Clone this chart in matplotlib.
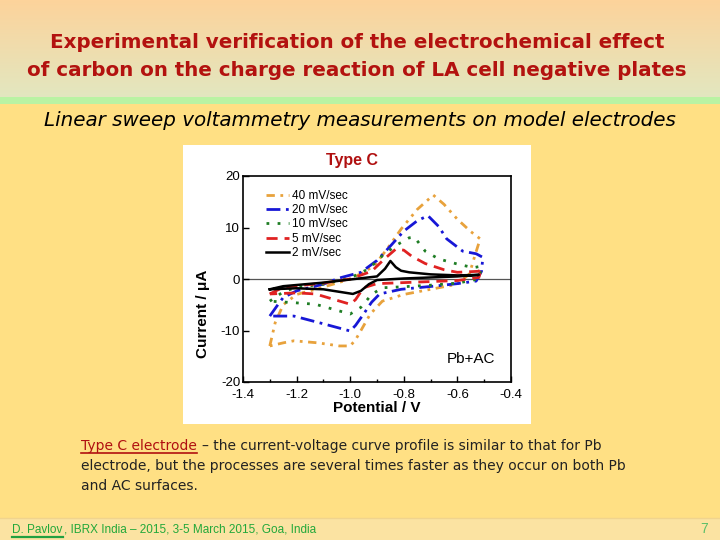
import numpy as np
import matplotlib
matplotlib.use("Agg")
import matplotlib.pyplot as plt
from matplotlib.patches import Rectangle

plt.rcParams["axes.unicode_minus"] = False

# ---------------- data ----------------
rates = ["40 mV/sec", "20 mV/sec", "10 mV/sec", "5 mV/sec", "2 mV/sec"]

v40_fwd = [-1.30, -1.28, -1.25, -1.20, -1.15, -1.05, -1.00, -0.95, -0.91, -0.86, -0.81, -0.75, -0.69, -0.65, -0.60, -0.55, -0.515]
i40_fwd = [-13.0, -8.5, -5.0, -3.0, -2.3, -0.8, 0.0, 1.3, 2.6, 6.0, 9.7, 13.5, 16.3, 14.5, 11.6, 9.2, 7.8]
v40_rev = [-0.515, -0.535, -0.555, -0.60, -0.70, -0.80, -0.88, -0.925, -0.96, -0.98, -1.00, -1.04, -1.12, -1.21, -1.25, -1.30]
i40_rev = [7.8, 4.5, 1.0, -1.0, -2.0, -3.0, -4.3, -6.8, -10.0, -11.8, -13.0, -13.0, -12.4, -12.0, -12.4, -13.0]

v20_fwd = [-1.30, -1.27, -1.25, -1.20, -1.10, -1.04, -0.96, -0.90, -0.85, -0.80, -0.75, -0.71, -0.67, -0.64, -0.58, -0.53, -0.505]
i20_fwd = [-7.2, -5.0, -3.6, -2.3, -1.0, 0.2, 1.3, 3.6, 6.4, 9.3, 11.3, 12.3, 10.2, 7.8, 5.4, 4.9, 4.2]
v20_rev = [-0.505, -0.51, -0.53, -0.60, -0.69, -0.81, -0.89, -0.92, -0.95, -0.98, -1.00, -1.10, -1.21, -1.30]
i20_rev = [4.2, 1.5, -0.4, -0.9, -1.4, -2.0, -2.9, -4.5, -6.8, -9.0, -10.1, -8.7, -7.2, -7.2]

v10_fwd = [-1.30, -1.25, -1.20, -1.10, -1.00, -0.93, -0.88, -0.83, -0.78, -0.76, -0.72, -0.67, -0.60, -0.54, -0.51]
i10_fwd = [-4.3, -2.5, -1.6, -1.0, 0.2, 2.0, 4.5, 6.5, 8.0, 8.1, 5.4, 3.9, 2.9, 2.2, 2.5]
v10_rev = [-0.51, -0.52, -0.60, -0.70, -0.80, -0.88, -0.92, -0.96, -1.00, -1.13, -1.21, -1.30]
i10_rev = [2.5, 0.0, -0.8, -1.2, -1.5, -1.7, -3.0, -5.5, -6.8, -4.9, -4.6, -4.3]

v5_fwd = [-1.30, -1.25, -1.10, -1.00, -0.92, -0.87, -0.83, -0.80, -0.77, -0.72, -0.65, -0.60, -0.52, -0.51]
i5_fwd = [-2.9, -1.6, -0.8, 0.0, 1.5, 4.0, 5.8, 5.6, 4.4, 3.0, 1.8, 1.3, 1.5, 2.0]
v5_rev = [-0.51, -0.52, -0.60, -0.70, -0.80, -0.90, -0.95, -0.98, -1.00, -1.13, -1.20, -1.30]
i5_rev = [2.0, 0.3, -0.3, -0.5, -0.7, -0.9, -1.7, -4.0, -4.9, -2.9, -2.7, -2.9]

v2_fwd = [-1.30, -1.25, -1.10, -1.00, -0.90, -0.87, -0.85, -0.83, -0.81, -0.78, -0.70, -0.60, -0.52]
i2_fwd = [-2.0, -1.4, -0.7, -0.1, 0.5, 2.0, 3.5, 2.3, 1.6, 1.3, 0.9, 0.7, 0.8]
v2_rev = [-0.52, -0.60, -0.70, -0.80, -0.90, -0.93, -0.96, -0.99, -1.10, -1.20, -1.30]
i2_rev = [0.8, 0.5, 0.3, 0.1, -0.2, -1.0, -2.3, -2.9, -2.0, -1.8, -2.0]

x_ticks = [-1.4, -1.2, -1.0, -0.8, -0.6, -0.4]
y_ticks = [-20, -10, 0, 10, 20]

# ---------------- figure & slide background ----------------
W, H = 720, 540
fig = plt.figure(figsize=(7.2, 5.4), dpi=100)
bg = fig.add_axes([0, 0, 1, 1])
bg.set_xlim(0, W)
bg.set_ylim(H, 0)
bg.axis("off")

top = np.array([253, 211, 155]) / 255
mid = np.array([226, 231, 192]) / 255
grad = np.linspace(0, 1, 98)[:, None, None]
img = top * (1 - grad) + mid * grad
img = np.repeat(img, 2, axis=1)
bg.imshow(img, extent=(0, W, 98, 0), aspect="auto", zorder=0)
bg.add_patch(Rectangle((0, 97), W, 7, color="#b9f3a3", zorder=1, lw=0))
bg.add_patch(Rectangle((0, 104), W, 414, color="#ffe084", zorder=1, lw=0))
bg.add_patch(Rectangle((0, 518), W, 22, color="#fbe3a2", zorder=1, lw=0))
bg.plot([0, W], [518, 518], color="#f0d48e", lw=1, zorder=2)
bg.add_patch(Rectangle((183, 145), 348, 279, color="white", zorder=2, lw=0))

# titles
title_col = "#b3120f"
bg.text(357, 42, "Experimental verification of the electrochemical effect",
        ha="center", va="center", fontsize=14.3, fontweight="bold", color=title_col, zorder=3)
bg.text(357, 71, "of carbon on the charge reaction of LA cell negative plates",
        ha="center", va="center", fontsize=14.3, fontweight="bold", color=title_col, zorder=3)
bg.text(360, 121, "Linear sweep voltammetry measurements on model electrodes",
        ha="center", va="center", fontsize=14.3, style="italic", color="black", zorder=3)

bg.text(352, 160, "Type C", ha="center", va="center", fontsize=11.5, fontweight="bold",
        color="#b01010", family="Liberation Sans", zorder=3)

# body text
body_fs = 10
tc = bg.text(81, 446, "Type C electrode", ha="left", va="center", fontsize=body_fs,
             color="#b01010", zorder=3)
renderer = fig.canvas.get_renderer()
bb = tc.get_window_extent(renderer)
x_end = bb.x1  # pixels, same as data units of bg (x axis 0..W)
bg.plot([81, x_end], [453, 453], color="#b01010", lw=1.2, zorder=3)
bg.text(x_end + 5, 446, "– the current-voltage curve profile is similar to that for Pb",
        ha="left", va="center", fontsize=body_fs, color="#222222", zorder=3)
bg.text(81, 466, "electrode, but the processes are several times faster as they occur on both Pb",
        ha="left", va="center", fontsize=body_fs, color="#222222", zorder=3)
bg.text(81, 486, "and AC surfaces.", ha="left", va="center", fontsize=body_fs,
        color="#222222", zorder=3)

# footer
foot_col = "#22a83a"
bg.text(12, 530, "D. Pavlov", ha="left", va="center", fontsize=8.5, color=foot_col,
        family="Liberation Sans", zorder=3)
bg.plot([12, 63], [537, 537], color="#22a040", lw=1.6, zorder=3)
bg.text(64, 530, ", IBRX India – 2015, 3-5 March 2015, Goa, India", ha="left", va="center",
        fontsize=8.5, color=foot_col, family="Liberation Sans", zorder=3)
bg.text(704, 529, "7", ha="center", va="center", fontsize=10, color="#5cbf6a",
        family="Liberation Sans", zorder=3)

# ---------------- chart ----------------
ax = fig.add_axes([243 / W, 1 - 382 / H, (511 - 243) / W, (382 - 176) / H])
ax.set_facecolor("white")
ax.set_xlim(-1.4, -0.4)
ax.set_ylim(-20, 20)
ax.axhline(0, color="#555555", lw=0.9, zorder=1)

styles = [
    ("#e8a23c", (0, (3, 2, 1, 2, 1, 2)), 2.0),
    ("#1717d6", (0, (5, 2, 1, 2)), 2.0),
    ("#1e7d24", (0, (1, 3)), 2.0),
    ("#e02222", (0, (4, 2.5)), 2.0),
    ("black", "-", 1.8),
]
series = [
    (v40_fwd + v40_rev[1:], i40_fwd + i40_rev[1:]),
    (v20_fwd + v20_rev[1:], i20_fwd + i20_rev[1:]),
    (v10_fwd + v10_rev[1:], i10_fwd + i10_rev[1:]),
    (v5_fwd + v5_rev[1:], i5_fwd + i5_rev[1:]),
    (v2_fwd + v2_rev[1:], i2_fwd + i2_rev[1:]),
]
for (v, i), (col, ls, lw), lab in zip(series, styles, rates):
    ax.plot(v, i, color=col, linestyle=ls, lw=lw, label=lab, zorder=2)

ax.set_xticks(x_ticks)
ax.set_xticklabels(["-1.4", "-1.2", "-1.0", "-0.8", "-0.6", "-0.4"])
ax.set_yticks(y_ticks)
ax.set_xticks(np.arange(-1.3, -0.4, 0.2), minor=True)
ax.tick_params(direction="in", length=4, width=1, labelsize=9.5)
ax.tick_params(axis="x", pad=5)
ax.tick_params(axis="y", pad=2)
ax.tick_params(which="minor", direction="in", length=2.5, width=1)
for lab in ax.get_xticklabels() + ax.get_yticklabels():
    lab.set_family("Liberation Sans")
for sp in ax.spines.values():
    sp.set_linewidth(1.2)
ax.set_xlabel("Potential / V", fontsize=11, fontweight="bold", family="Liberation Sans", labelpad=0)
ax.set_ylabel("Current / μA", fontsize=11, fontweight="bold", family="Liberation Sans", labelpad=4)
ax.yaxis.set_label_coords(-0.125, 0.33)

ax.text(-0.55, -15.5, "Pb+AC", ha="center", va="center", fontsize=11, family="Liberation Sans")

ax.legend(loc="upper left", bbox_to_anchor=(0.045, 0.985), frameon=False,
          handlelength=2.0, handletextpad=0.25, labelspacing=0.2,
          prop={"family": "Liberation Sans", "size": 8.5})

fig.savefig("out.png", dpi=100)
